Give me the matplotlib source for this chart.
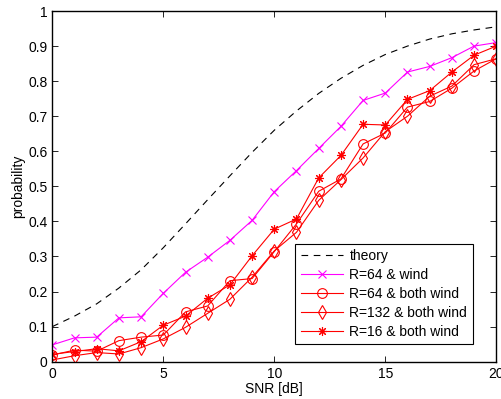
import numpy as np
import matplotlib
matplotlib.use("Agg")
import matplotlib.pyplot as plt

plt.rcParams['font.family'] = ['Liberation Sans', 'DejaVu Sans']

snr = np.arange(0, 21)
theory = [0.10, 0.13, 0.165, 0.21, 0.262, 0.325, 0.393, 0.462, 0.53, 0.597, 0.66,
          0.715, 0.765, 0.808, 0.845, 0.876, 0.90, 0.92, 0.935, 0.946, 0.955]
r64_wind = [0.048, 0.068, 0.070, 0.125, 0.128, 0.195, 0.255, 0.298, 0.346, 0.403, 0.485,
            0.545, 0.608, 0.671, 0.745, 0.766, 0.826, 0.842, 0.867, 0.90, 0.91]
r64_both = [0.019, 0.033, 0.030, 0.060, 0.070, 0.076, 0.142, 0.159, 0.231, 0.237, 0.314,
            0.393, 0.486, 0.521, 0.621, 0.652, 0.726, 0.742, 0.780, 0.829, 0.864]
r132_both = [0.005, 0.017, 0.026, 0.022, 0.040, 0.065, 0.098, 0.138, 0.178, 0.241, 0.316,
             0.369, 0.460, 0.519, 0.581, 0.656, 0.700, 0.757, 0.786, 0.847, 0.864]
r16_both = [0.021, 0.029, 0.037, 0.031, 0.057, 0.104, 0.130, 0.181, 0.219, 0.302, 0.378,
            0.407, 0.524, 0.588, 0.677, 0.675, 0.748, 0.773, 0.826, 0.874, 0.90]

fig = plt.figure(figsize=(5.01, 3.99), dpi=100)
ax = fig.add_axes([0.1044, 0.0935, 0.8862, 0.8789])

ax.plot(snr, theory, '--', color='black', lw=0.8, dashes=(6, 5), label='theory')
ax.plot(snr, r64_wind, '-x', color='#ff00ff', lw=0.8, ms=6, mew=0.8, label='R=64 & wind')
ax.plot(snr, r64_both, '-o', color='red', lw=0.8, ms=7, mew=0.8, mfc='none', label='R=64 & both wind')
ax.plot(snr, r132_both, '-d', color='red', lw=0.8, ms=7, mew=0.8, mfc='none', label='R=132 & both wind')
ax.plot(snr, r16_both, '-', marker=(8, 2, 0), color='red', lw=0.8, ms=6.5, mew=0.8, label='R=16 & both wind')

ax.set_xlim(0, 20)
ax.set_ylim(0, 1)
ax.set_xticks([0, 5, 10, 15, 20])
ax.set_yticks(np.arange(0, 1.01, 0.1))
ax.set_yticklabels(['0', '0.1', '0.2', '0.3', '0.4', '0.5', '0.6', '0.7', '0.8', '0.9', '1'])
ax.tick_params(direction='in', top=True, right=True, labelsize=10, length=4, width=0.6)
for s in ax.spines.values():
    s.set_linewidth(1.0)
ax.set_xlabel('SNR [dB]', fontsize=10, labelpad=1)
ax.set_ylabel('probability', fontsize=10, labelpad=2)

leg = ax.legend(loc='lower right', bbox_to_anchor=(0.947, 0.05), fontsize=10,
                fancybox=False, framealpha=1, edgecolor='black', handlelength=3.0,
                borderpad=0.4, labelspacing=0.35, handletextpad=0.5, borderaxespad=0)
leg.get_frame().set_linewidth(0.8)

fig.savefig('out.png', dpi=100)
